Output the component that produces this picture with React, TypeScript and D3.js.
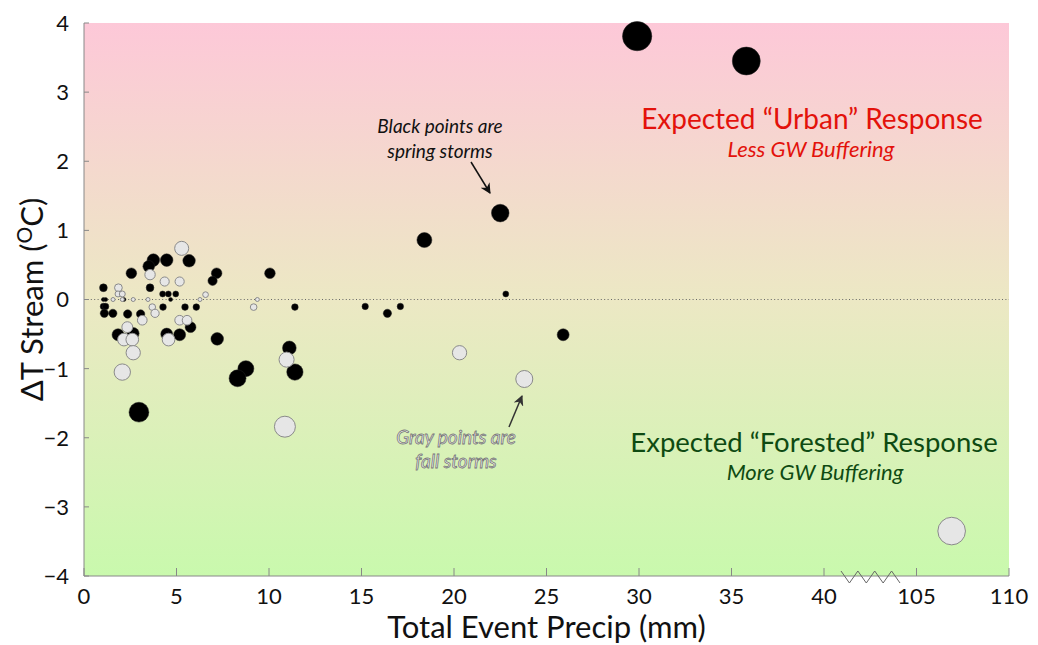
import React, { useEffect } from "react";
import * as d3 from "d3";

// Spring storms (black points): [precip mm, ΔT °C]
const springPrecip = [29.9, 35.8, 22.5, 18.4, 22.8, 25.9, 15.2, 16.4, 17.1, 11.4, 10.05, 11.1, 11.4, 8.75, 8.3, 7.2, 2.97, 3.75, 3.5, 4.47, 5.68, 2.56, 7.17, 6.95, 1.05, 3.57, 4.25, 4.56, 4.96, 1.05, 1.17, 2.16, 4.68, 1.05, 1.17, 4.27, 5.46, 6.07, 1.1, 1.56, 2.36, 3.06, 5.76, 1.84, 2.66, 4.47, 5.17];
const springDT = [3.81, 3.45, 1.25, 0.86, 0.08, -0.51, -0.1, -0.2, -0.1, -0.11, 0.38, -0.7, -1.05, -1.0, -1.14, -0.57, -1.63, 0.57, 0.48, 0.57, 0.56, 0.38, 0.38, 0.27, 0.17, 0.17, 0.08, 0.08, 0.08, 0.0, 0.0, 0.0, 0.0, -0.1, -0.1, -0.11, -0.11, -0.11, -0.2, -0.2, -0.21, -0.21, -0.4, -0.51, -0.49, -0.5, -0.51];

// Fall storms (gray points)
const fallPrecip = [5.28, 3.57, 4.36, 5.17, 1.86, 1.84, 2.07, 6.57, 1.57, 2.07, 2.66, 3.46, 6.27, 9.37, 9.17, 3.69, 3.84, 3.15, 5.17, 5.57, 2.34, 2.16, 2.61, 2.66, 4.57, 2.07, 10.95, 10.86, 20.3, 23.8, 106.9];
const fallDT = [0.74, 0.36, 0.26, 0.26, 0.17, 0.08, 0.08, 0.07, 0.0, 0.0, 0.0, 0.0, 0.0, 0.0, -0.11, -0.11, -0.2, -0.3, -0.3, -0.3, -0.4, -0.58, -0.58, -0.77, -0.58, -1.05, -0.87, -1.84, -0.77, -1.15, -3.35];

const xTicks = [0, 5, 10, 15, 20, 25, 30, 35, 40, 105, 110];
const yTicks = [-4, -3, -2, -1, 0, 1, 2, 3, 4];

const W = 1038, H = 645;
const L = 84, R = 1009, T = 23, B = 576;
const FONT = "Lato, 'Open Sans', sans-serif";

export default function App() {
  useEffect(() => { document.body.style.margin = "0"; }, []);
  const unit = (R - L) / 50;
  // broken axis: 0..40 then 105..110
  const x = d3.scaleLinear().domain([0, 40, 105, 110]).range([L, L + 40 * unit, L + 45 * unit, R]);
  const y = d3.scaleLinear().domain([-4, 4]).range([B, T]);
  const r = (v: number) => Math.max(2, 1 + 7 * Math.sqrt(Math.abs(v)));

  const spring = springPrecip.map((p, i) => ({ p, t: springDT[i] }));
  const fall = fallPrecip.map((p, i) => ({ p, t: fallDT[i] }));

  // zigzag break marker
  const zx0 = x(40) + 17, zx1 = x(40) + 76;
  const zig: [number, number][] = [];
  for (let i = 0; i < 8; i++) {
    zig.push([zx0 + (i * (zx1 - zx0)) / 7, i % 2 === 0 ? B - 5 : B + 7]);
  }
  const line = d3.line();

  return (
    <div style={{ position: "absolute", left: 0, top: 0 }}>
      <svg width={W} height={H} style={{ display: "block", background: "#fff" }}>
        <defs>
          <linearGradient id="bg" x1="0" y1="0" x2="0" y2="1">
            <stop offset="0%" stopColor="#fdc8d8" />
            <stop offset="50%" stopColor="#ece8c4" />
            <stop offset="100%" stopColor="#c9f9ad" />
          </linearGradient>
          <marker id="arrowB" viewBox="0 0 10 10" refX="9" refY="5" markerWidth="7" markerHeight="7" orient="auto">
            <path d="M0,0 L10,5 L0,10 L3,5 z" fill="#111" />
          </marker>
          <marker id="arrowG" viewBox="0 0 10 10" refX="9" refY="5" markerWidth="7" markerHeight="7" orient="auto">
            <path d="M0,0 L10,5 L0,10 L3,5 z" fill="#333" />
          </marker>
        </defs>
        <rect x={L} y={T} width={R - L} height={B - T} fill="url(#bg)" />
        {/* zero line */}
        <line x1={L} x2={R} y1={y(0)} y2={y(0)} stroke="#666" strokeWidth={1} strokeDasharray="1,2.4" />
        {/* axes */}
        <line x1={L} x2={L} y1={T} y2={B} stroke="#888" strokeWidth={1} />
        <line x1={L} x2={R} y1={B} y2={B} stroke="#888" strokeWidth={1} />
        {yTicks.map((t) => (
          <g key={"y" + t}>
            <line x1={L} x2={L + 5} y1={y(t)} y2={y(t)} stroke="#888" />
            <text x={L - 15} y={y(t)} dy="0.36em" textAnchor="end" fontFamily={FONT} fontSize={22} fill="#111">
              {t < 0 ? "\u2212" + Math.abs(t) : String(t)}
            </text>
          </g>
        ))}
        {xTicks.map((t) => (
          <g key={"x" + t}>
            <line x1={x(t)} x2={x(t)} y1={B} y2={B - 8} stroke="#888" />
            <text x={x(t)} y={B + 28} textAnchor="middle" fontFamily={FONT} fontSize={22} fill="#111">{t}</text>
          </g>
        ))}
        <path d={line(zig) || ""} fill="none" stroke="#666" strokeWidth={1} />
        {/* axis titles */}
        <text x={(L + R) / 2} y={638} textAnchor="middle" fontFamily={FONT} fontSize={31} fill="#111">Total Event Precip (mm)</text>
        <text transform={`translate(43,${(T + B) / 2}) rotate(-90)`} textAnchor="middle" fontFamily={FONT} fontSize={31} fill="#111">
          {"\u0394T Stream ("}
          <tspan fontSize={21} dy={-11}>O</tspan>
          <tspan dy={11}>C)</tspan>
        </text>
        {/* points */}
        {spring.map((d, i) => (
          <circle key={"s" + i} cx={x(d.p)} cy={y(d.t)} r={r(d.t)} fill="#000" stroke="#222" strokeWidth={0.5} />
        ))}
        {fall.map((d, i) => (
          <circle key={"f" + i} cx={x(d.p)} cy={y(d.t)} r={r(d.t)} fill="#e6e6e6" stroke="#8a8a8a" strokeWidth={1} />
        ))}
        {/* annotations */}
        <text x={812} y={129} textAnchor="middle" fontFamily={FONT} fontSize={28} fill="#e3120b">Expected “Urban” Response</text>
        <text x={811} y={157} textAnchor="middle" fontFamily={FONT} fontSize={22} fontStyle="italic" fill="#e3120b">Less GW Buffering</text>
        <text x={814} y={452} textAnchor="middle" fontFamily={FONT} fontSize={27.5} fill="#0e4a12">Expected “Forested” Response</text>
        <text x={815} y={480} textAnchor="middle" fontFamily={FONT} fontSize={22} fontStyle="italic" fill="#0e4a12">More GW Buffering</text>
        <text x={440} y={133} textAnchor="middle" fontFamily={FONT} fontSize={19} fontStyle="italic" fill="#111">Black points are</text>
        <text x={440} y={158} textAnchor="middle" fontFamily={FONT} fontSize={19} fontStyle="italic" fill="#111">spring storms</text>
        <line x1={471} y1={162} x2={490} y2={193} stroke="#111" strokeWidth={1.5} markerEnd="url(#arrowB)" />
        <text x={456} y={444} textAnchor="middle" fontFamily={FONT} fontSize={19} fontStyle="italic" fill="#f2f2f2" stroke="#777" strokeWidth={0.8}>Gray points are</text>
        <text x={456} y={468} textAnchor="middle" fontFamily={FONT} fontSize={19} fontStyle="italic" fill="#f2f2f2" stroke="#777" strokeWidth={0.8}>fall storms</text>
        <line x1={509} y1={427} x2={522} y2={396} stroke="#333" strokeWidth={1.5} markerEnd="url(#arrowG)" />
      </svg>
    </div>
  );
}
